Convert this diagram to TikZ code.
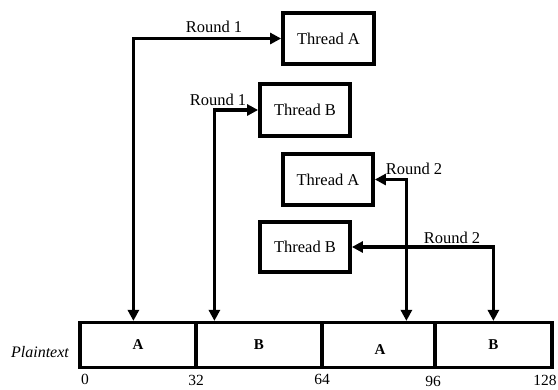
\documentclass[tikz,border=0pt]{standalone}
\usepackage{fontspec}
\setmainfont{Liberation Serif}
\usetikzlibrary{arrows.meta}
\begin{document}
\begin{tikzpicture}[x=1pt,y=-1pt,
  thread/.style={draw,line width=3.8pt,minimum width=88pt,minimum height=49pt,inner sep=0pt,font=\fontsize{16.5}{18}\selectfont},
  cell/.style={draw,line width=3.2pt,minimum height=45pt,inner sep=0pt,font=\bfseries\fontsize{15}{17}\selectfont},
  lbl/.style={font=\fontsize{16.5}{18}\selectfont,inner sep=0pt},
  num/.style={font=\fontsize{15.5}{17}\selectfont,inner sep=0pt},
  arr/.style={line width=3.8pt,{Triangle[length=11pt,width=11pt]}-{Triangle[length=11pt,width=11pt]}}]
\useasboundingbox (0,0) rectangle (558,389);
% bar cells
\node[cell,minimum width=116pt] (c1) at (138,345) {A};
\node[cell,minimum width=126pt] (c2) at (259,345) {B};
\node[cell,minimum width=113pt] (c3) at (378.5,345) {};
\node[lbl,font=\bfseries\fontsize{15}{17}\selectfont] (c3t) at (380,350) {A};
\node[cell,minimum width=117pt] (c4) at (493.5,345) {B};
\node[lbl,font=\itshape\fontsize{16}{18}\selectfont] (pt) at (40,352) {Plaintext};
% numbers
\node[num] (n0) at (85,379) {0};
\node[num] (n32) at (196,380) {32};
\node[num] (n64) at (322,379) {64};
\node[num] (n96) at (433,381) {96};
\node[num] (n128) at (545,380) {128};
% threads
\node[thread,minimum width=91pt,minimum height=51pt] (tA1) at (328.5,38.5) {Thread A};
\node[thread,minimum width=90pt,minimum height=52pt] (tB1) at (305,110) {Thread B};
\node[thread,minimum width=90pt,minimum height=51pt] (tA2) at (328,179.5) {Thread A};
\node[thread,minimum width=90pt,minimum height=50pt] (tB2) at (305,247) {Thread B};
% labels
\node[lbl] (r1a) at (214,27) {Round 1};
\node[lbl] (r1b) at (218,100) {Round 1};
\node[lbl] (r2a) at (414,169) {Round 2};
\node[lbl] (r2b) at (452,238) {Round 2};
% arrow end points on the bar
\coordinate (p1) at ([xshift=55pt]c1.north west);
\coordinate (p2) at ([xshift=20pt]c2.north west);
\coordinate (p3) at ([xshift=86pt]c3.north west);
\coordinate (p4) at ([xshift=60pt]c4.north west);
% connectors
\draw[arr] (p1) |- (tA1.west);
\draw[arr] (p2) |- (tB1.west);
\draw[arr] (p3) |- (tA2.east);
\draw[arr] (p4) |- (tB2.east);
\end{tikzpicture}
\end{document}
